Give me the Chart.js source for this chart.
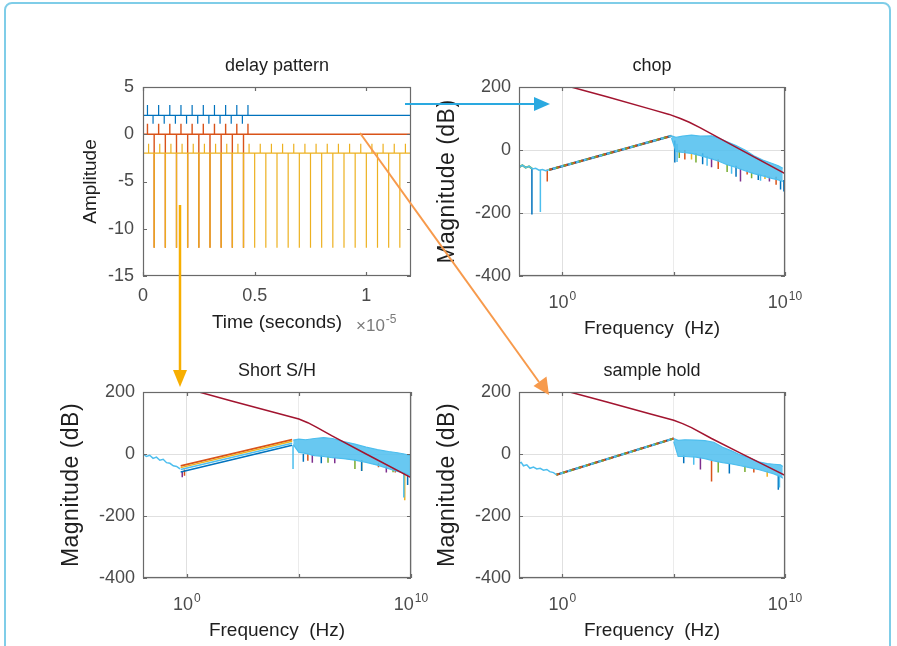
<!DOCTYPE html>
<html>
<head>
<meta charset="utf-8">
<script src="https://cdn.jsdelivr.net/npm/chart.js@4.4.1/dist/chart.umd.min.js"></script>
<style>
  html, body { margin: 0; padding: 0; background: #fff; }
  #page { position: relative; width: 897px; height: 646px; overflow: hidden; background: #fff; }
  #frame { position: absolute; left: 4px; top: 2px; width: 887px; height: 720px; border: 2px solid #7fcde8;
           border-radius: 8px; box-sizing: border-box; }
  canvas { position: absolute; }
  #arrows { position: absolute; left: 0; top: 0; }
</style>
</head>
<body>
<div id="page">
  <div id="frame"></div>
  <canvas id="delayChart"></canvas>
  <canvas id="chopChart"></canvas>
  <canvas id="shortChart"></canvas>
  <canvas id="holdChart"></canvas>
  <svg id="arrows" width="897" height="646" viewBox="0 0 897 646">
    <line x1="405" y1="104" x2="536" y2="104" stroke="#2aa9e0" stroke-width="2"/>
    <polygon points="550,104 534,97 534,111" fill="#2aa9e0"/>
    <line x1="180" y1="205" x2="180" y2="372" stroke="#f7ae00" stroke-width="2.5"/>
    <polygon points="180,387 173,370 187,370" fill="#f7ae00"/>
    <line x1="360" y1="133" x2="539" y2="382" stroke="#f79a4c" stroke-width="2"/>
    <polygon points="549,395 533.5,386 546.5,376.6" fill="#f79a4c"/>
  </svg>
</div>
<script>
// ---- delay pattern (time in units of 1e-5 s) ----
const timeEnd = 1.2;
const timeTicks = [0, 0.5, 1];
const ampTicks = [-15, -10, -5, 0, 5];
// levels: [baseline, up-spike peak, down-spike peak]
const blueLevels = [2, 3.1, 1.1];
const blueUpTimes = [0.02, 0.07, 0.12, 0.17, 0.22, 0.27, 0.32, 0.37, 0.42, 0.47];
const blueDownTimes = [0.045, 0.095, 0.145, 0.195, 0.245, 0.295, 0.345, 0.395, 0.445];
const redLevels = [0, 1.1, -12];
const redUpTimes = [0.02, 0.07, 0.12, 0.17, 0.22, 0.27, 0.32, 0.37, 0.42, 0.47];
const redDownTimes = [0, 0.05, 0.1, 0.15, 0.2, 0.25, 0.3, 0.35, 0.4, 0.45];
const yellowLevels = [-2, -1, -12];
const yellowUpTimes = [0.025, 0.075, 0.125, 0.175, 0.225, 0.275, 0.325, 0.375, 0.425, 0.475, 0.525, 0.575,
  0.625, 0.675, 0.725, 0.775, 0.825, 0.875, 0.925, 0.975, 1.025, 1.075, 1.125, 1.175];
const yellowDownTimes = [0, 0.05, 0.1, 0.15, 0.2, 0.25, 0.3, 0.35, 0.4, 0.45, 0.5, 0.55, 0.6,
  0.65, 0.7, 0.75, 0.8, 0.85, 0.9, 0.95, 1.0, 1.05, 1.1, 1.15, 1.2];

// ---- bode magnitude plots (frequency as log10 exponent, magnitude in dB) ----
const freqGrid = [1, 1e5, 1e10];
const freqLabelValues = [1, 1e10];
const freqLabelExps = ['0', '10'];
const dbTicks = [-400, -200, 0, 200];

// chop
const chopRedExp = [0.39, 2, 4, 4.8, 5.3, 5.7, 6.2, 8, 10];
const chopRedDb = [200, 169, 129, 113, 100, 88, 70, 1, -75];
const chopPreExp = [-1.95, -1.8, -1.65, -1.5, -1.35, -1.2, -1.05, -0.9, -0.75, -0.6];
const chopPreDb = [-55, -48, -56, -52, -60, -58, -64, -62, -66, -63];
const chopRampExp = [-0.6, 4.9];
const chopRampDb = [-63, 45];
const chopBandExp = [4.9, 5.1, 5.4, 5.8, 6.2, 6.7, 7.0, 7.4, 7.8, 8.2, 8.6, 9.0, 9.4, 9.7, 9.9];
const chopBandTop = [45, 40, 44, 47, 44, 45, 38, 26, 14, 0, -18, -32, -42, -50, -58];
const chopBandLow = [38, -5, -8, -11, -18, -28, -35, -47, -55, -66, -75, -82, -90, -95, -100];
// spikes: [exp, top dB, bottom dB]
const chopSpikesBlue = [[-1.37, -60, -205], [5.05, 30, -40], [6.3, -10, -45], [7.8, -50, -85], [8.8, -75, -95],
  [9.8, -95, -125], [9.95, -95, -132]];
const chopSpikesOrange = [[-0.68, -62, -100], [5.5, 0, -30], [7.0, -30, -60], [8.3, -65, -78], [9.6, -85, -110]];
const chopSpikesGreen = [[5.25, 0, -25], [6.0, -10, -40], [7.4, -45, -70], [8.5, -70, -90]];
const chopSpikesPurple = [[6.7, -25, -55], [8.0, -60, -100], [9.3, -85, -100]];
const chopSpikesYellow = [[5.8, -10, -30], [9.1, -80, -92]];
const chopSpikesLightBlue = [[-0.99, -63, -197], [5.15, 20, -38], [6.5, -20, -50], [7.6, -50, -75], [8.9, -78, -98]];

// Short S/H
const shortRedExp = [0.55, 2, 4, 5, 5.4, 5.8, 6.46, 8, 10];
const shortRedDb = [200, 171, 132, 113, 101, 86, 59, 0, -76];
const shortPreExp = [-1.94, -1.8, -1.65, -1.5, -1.35, -1.2, -1.05, -0.9, -0.75, -0.6, -0.45, -0.3];
const shortPreDb = [0, -8, -4, -14, -10, -20, -17, -28, -30, -38, -40, -48];
const shortRampExp = [-0.27, 4.7];
const shortRampOrange = [-38, 46];
const shortRampYellow = [-44, 41];
const shortRampLightBlue = [-50, 35];
const shortRampBlue = [-58, 28];
const shortBandExp = [4.75, 5.0, 5.3, 5.7, 6.1, 6.5, 7.0, 7.5, 8.0, 8.5, 9.0, 9.4, 9.7, 10];
const shortBandTop = [45, 48, 46, 50, 53, 50, 40, 32, 22, 14, 8, 4, 0, -5];
const shortBandLow = [30, 5, 2, -5, -8, -12, -15, -20, -27, -36, -47, -56, -62, -70];
const shortSpikesBlue = [[5.2, 0, -25], [6.0, -5, -30], [7.8, -20, -55], [9.85, -65, -100]];
const shortSpikesPurple = [[-0.2, -55, -75], [5.6, -3, -28], [6.6, -10, -30], [8.9, -40, -60]];
const shortSpikesOrange = [[-0.1, -50, -70], [5.4, 0, -22], [8.55, -30, -43], [9.3, -50, -60]];
const shortSpikesYellow = [[7.8, -20, -55], [9.72, -60, -149]];
const shortSpikesGreen = [[6.3, -8, -28], [7.5, -18, -48], [9.2, -50, -59]];
const shortSpikesLightBlue = [[4.74, 28, -48], [9.68, -60, -140]];

// sample hold
const holdRedExp = [0.33, 2, 4, 5, 5.4, 5.8, 6.7, 8, 10];
const holdRedDb = [200, 168, 128, 109, 98, 85, 50, 3, -69];
const holdPreExp = [-1.95, -1.85, -1.75, -1.6, -1.46, -1.3, -1.15, -1.0, -0.85, -0.7, -0.57, -0.4, -0.27];
const holdPreDb = [-30, -27, -38, -35, -46, -42, -48, -46, -52, -50, -57, -60, -67];
const holdRampExp = [-0.27, 5.0];
const holdRampDb = [-67, 50];
const holdBandExp = [5.0, 5.2, 5.5, 6.0, 6.4, 6.8, 7.2, 7.6, 8.0, 8.4, 8.8, 9.2, 9.5, 9.8, 9.9];
const holdBandTop = [50, 44, 46, 45, 43, 38, 22, 10, -3, -12, -25, -31, -33, -35, -40];
const holdBandLow = [40, -8, -8, -10, -15, -22, -28, -32, -38, -44, -50, -58, -64, -73, -78];
const holdSpikesBlue = [[5.45, -5, -30], [7.5, -30, -63], [9.7, -70, -115]];
const holdSpikesPurple = [[6.2, -10, -50]];
const holdSpikesOrange = [[6.7, -20, -89], [8.6, -45, -60]];
const holdSpikesGreen = [[7.0, -25, -60], [8.2, -38, -58]];
const holdSpikesYellow = [[9.2, -55, -73]];
const holdSpikesLightBlue = [[5.9, -8, -35], [9.75, -70, -108]];

// ---- styles ----
const C = {
  blue: '#0072BD', orange: '#D95319', yellow: '#EDB120', purple: '#7E2F8E',
  green: '#77AC30', lightBlue: '#4DBEEE', darkRed: '#A2142F'
};
const BAND_FILL = 'rgba(77, 190, 238, 0.85)';
const FONT = "'Liberation Sans', Arial, sans-serif";
const TICK_SIZE = 18;
const TICK_COLOR = '#4a4a4a';
const LABEL_COLOR = '#1e1e1e';
const GRID = '#e0e0e0';
const BOX = {
  delay: { left: 143, top: 87, right: 411, bottom: 276 },
  chop: { left: 519, top: 87, right: 785, bottom: 276 },
  short: { left: 143, top: 392, right: 411, bottom: 578 },
  hold: { left: 519, top: 392, right: 785, bottom: 578 }
};
const PAD = { left: 90, top: 50, right: 45, bottom: 70 };
const AXIS_W = 60, AXIS_H = 36;

Chart.defaults.animation = false;
Chart.defaults.events = [];
Chart.defaults.font.family = FONT;
Chart.defaults.plugins.legend.display = false;
Chart.defaults.plugins.tooltip.enabled = false;
Chart.defaults.elements.point.radius = 0;
Chart.defaults.elements.line.borderWidth = 1.2;
Chart.defaults.elements.line.tension = 0;

const toHz = e => Math.pow(10, e);

function curve(exps, dbs) {
  return exps.map((e, i) => ({ x: toHz(e), y: dbs[i] }));
}

function spikes(list) {
  const pts = [];
  list.forEach(([e, top, bottom]) => {
    pts.push({ x: toHz(e), y: top }, { x: toHz(e), y: bottom }, { x: toHz(e), y: null });
  });
  return pts;
}

function pulseTrain(levels, upTimes, downTimes, tEnd) {
  const [base, upPeak, downPeak] = levels;
  const events = upTimes.map(t => [t, upPeak]).concat(downTimes.map(t => [t, downPeak]))
    .sort((a, b) => a[0] - b[0]);
  const pts = [{ x: 0, y: base }];
  events.forEach(([t, peak]) => pts.push({ x: t, y: base }, { x: t, y: peak }, { x: t, y: base }));
  pts.push({ x: tEnd, y: base });
  return pts;
}

function placeCanvas(id, box) {
  const cv = document.getElementById(id);
  const w = box.right - box.left + PAD.left + PAD.right;
  const h = box.bottom - box.top + PAD.top + PAD.bottom;
  cv.width = w;
  cv.height = h;
  cv.style.left = (box.left - PAD.left) + 'px';
  cv.style.top = (box.top - PAD.top) + 'px';
  cv.style.width = w + 'px';
  cv.style.height = h + 'px';
  return cv;
}

// superscript label such as 10^10
function drawPower(ctx, x, y, base, exp, baseSize, expSize, align) {
  ctx.font = baseSize + 'px ' + FONT;
  const wb = ctx.measureText(base).width;
  ctx.font = expSize + 'px ' + FONT;
  const we = ctx.measureText(exp).width;
  const x0 = align === 'center' ? x - (wb + we + 1) / 2 : x;
  ctx.textAlign = 'left';
  ctx.textBaseline = 'alphabetic';
  ctx.font = baseSize + 'px ' + FONT;
  ctx.fillText(base, x0, y);
  ctx.font = expSize + 'px ' + FONT;
  ctx.fillText(exp, x0 + wb + 1, y - 8);
}

// MATLAB-like axes box, inward ticks, title and labels
const figurePlugin = {
  id: 'figure',
  afterDatasetsDraw(chart) {
    const { ctx, chartArea: a, scales } = chart;
    ctx.save();
    ctx.strokeStyle = '#6a6a6a';
    ctx.lineWidth = 1.2;
    ctx.strokeRect(a.left + 0.5, a.top + 0.5, a.width - 1, a.height - 1);
    ctx.beginPath();
    scales.y.ticks.forEach(t => {
      const py = Math.round(scales.y.getPixelForValue(t.value)) + 0.5;
      ctx.moveTo(a.left, py); ctx.lineTo(a.left + 4, py);
      ctx.moveTo(a.right, py); ctx.lineTo(a.right - 4, py);
    });
    scales.x.ticks.forEach(t => {
      const px = Math.round(scales.x.getPixelForValue(t.value)) + 0.5;
      ctx.moveTo(px, a.bottom); ctx.lineTo(px, a.bottom - 4);
      ctx.moveTo(px, a.top); ctx.lineTo(px, a.top + 4);
    });
    ctx.stroke();
    ctx.restore();
  },
  afterDraw(chart, args, o) {
    const { ctx, chartArea: a } = chart;
    const cx = (a.left + a.right) / 2;
    const cy = (a.top + a.bottom) / 2;
    ctx.save();
    ctx.fillStyle = LABEL_COLOR;
    ctx.textAlign = 'center';
    ctx.textBaseline = 'middle';
    ctx.font = '18px ' + FONT;
    ctx.fillText(o.title, cx, a.top - 21);
    ctx.font = '19px ' + FONT;
    ctx.fillText(o.xLabel, cx, a.bottom + o.xLabelGap);
    ctx.save();
    ctx.translate(a.left - o.yLabelGap, cy);
    ctx.rotate(-Math.PI / 2);
    ctx.font = o.yLabelSize + 'px ' + FONT;
    if ('letterSpacing' in ctx) ctx.letterSpacing = o.yLabelSpacing + 'px';
    ctx.fillText(o.yLabel, 0, 0);
    if ('letterSpacing' in ctx) ctx.letterSpacing = '0px';
    ctx.restore();
    if (o.powerTicks) {
      ctx.fillStyle = TICK_COLOR;
      freqLabelValues.forEach((v, i) => {
        drawPower(ctx, chart.scales.x.getPixelForValue(v), a.bottom + 32, '10', freqLabelExps[i], TICK_SIZE, 12, 'center');
      });
    }
    if (o.timeExponent) {
      ctx.fillStyle = '#7a7a7a';
      drawPower(ctx, a.right - 55, a.bottom + 55, '\u00d710', o.timeExponent, 17, 12, 'left');
    }
    ctx.restore();
  }
};

function layoutOptions() {
  return { padding: { left: PAD.left - AXIS_W, top: PAD.top, right: PAD.right, bottom: PAD.bottom - AXIS_H } };
}

function logX() {
  return {
    type: 'logarithmic',
    min: toHz(-1.95),
    max: toHz(10),
    afterBuildTicks: s => { s.ticks = freqGrid.map(v => ({ value: v })); },
    ticks: { display: false },
    grid: { color: ctx => (ctx.tick && ctx.tick.value === 1e5 ? '#ebebeb' : GRID), drawTicks: false },
    border: { display: false },
    afterFit: s => { s.height = AXIS_H; }
  };
}

function dbY() {
  return {
    type: 'linear',
    min: -400,
    max: 200,
    afterBuildTicks: s => { s.ticks = dbTicks.map(v => ({ value: v })); },
    ticks: { font: { size: TICK_SIZE }, color: TICK_COLOR, padding: 8 },
    grid: { color: GRID, drawTicks: false },
    border: { display: false },
    afterFit: s => { s.width = AXIS_W; }
  };
}

function line(data, color, order, extra) {
  return Object.assign({ data: data, borderColor: color, backgroundColor: color, order: order, fill: false }, extra || {});
}

function bodeLabels(title) {
  return {
    title: title, xLabel: 'Frequency  (Hz)', xLabelGap: 53,
    yLabel: 'Magnitude (dB)', yLabelGap: 71, yLabelSize: 23, yLabelSpacing: 0.5, powerTicks: true
  };
}

function bodeChart(id, box, datasets, title) {
  return new Chart(placeCanvas(id, box), {
    type: 'line',
    data: { datasets: datasets },
    options: {
      responsive: false,
      layout: layoutOptions(),
      scales: { x: logX(), y: dbY() },
      plugins: { figure: bodeLabels(title) }
    },
    plugins: [figurePlugin]
  });
}

// ---- delay pattern ----
new Chart(placeCanvas('delayChart', BOX.delay), {
  type: 'line',
  data: {
    datasets: [
      line(pulseTrain(yellowLevels, yellowUpTimes, yellowDownTimes, timeEnd), C.yellow, 0, { borderWidth: 1.2 }),
      line(pulseTrain(redLevels, redUpTimes, redDownTimes, timeEnd), C.orange, 1, { borderWidth: 1.4 }),
      line(pulseTrain(blueLevels, blueUpTimes, blueDownTimes, timeEnd), C.blue, 2)
    ]
  },
  options: {
    responsive: false,
    layout: layoutOptions(),
    scales: {
      x: {
        type: 'linear', min: 0, max: timeEnd,
        afterBuildTicks: s => { s.ticks = timeTicks.map(v => ({ value: v })); },
        ticks: { font: { size: TICK_SIZE }, color: TICK_COLOR, padding: 9, maxRotation: 0, callback: v => String(v) },
        grid: { display: false, drawTicks: false },
        border: { display: false },
        afterFit: s => { s.height = AXIS_H; }
      },
      y: {
        type: 'linear', min: -15, max: 5,
        afterBuildTicks: s => { s.ticks = ampTicks.map(v => ({ value: v })); },
        ticks: { font: { size: TICK_SIZE }, color: TICK_COLOR, padding: 9 },
        grid: { display: false, drawTicks: false },
        border: { display: false },
        afterFit: s => { s.width = AXIS_W; }
      }
    },
    plugins: {
      figure: {
        title: 'delay pattern', xLabel: 'Time (seconds)', xLabelGap: 47,
        yLabel: 'Amplitude', yLabelGap: 52, yLabelSize: 19, yLabelSpacing: 0, timeExponent: '-5'
      }
    }
  },
  plugins: [figurePlugin]
});

// ---- chop ----
bodeChart('chopChart', BOX.chop, [
  line(curve(chopRedExp, chopRedDb), C.darkRed, 0, { borderWidth: 1.5 }),
  line(curve(chopBandExp, chopBandTop), C.lightBlue, 1, { fill: '+1', backgroundColor: BAND_FILL }),
  line(curve(chopBandExp, chopBandLow), C.lightBlue, 1),
  line(spikes(chopSpikesLightBlue), C.lightBlue, 2, { borderWidth: 1.5 }),
  line(curve(chopRampExp, chopRampDb), C.lightBlue, 3, { borderWidth: 2, borderDash: [3, 5], borderDashOffset: 4 }),
  line(curve(chopRampExp, chopRampDb), C.green, 4, { borderWidth: 2, borderDash: [2, 6], borderDashOffset: 1 }),
  line(curve(chopRampExp, chopRampDb), C.orange, 5, { borderWidth: 2, borderDash: [3, 5] }),
  line(curve(chopRampExp, chopRampDb), '#33506b', 6, { borderWidth: 2.2 }),
  line(curve(chopPreExp, chopPreDb), C.lightBlue, 3, { borderWidth: 1.5 }),
  line(curve(chopPreExp.slice(0, 5), chopPreDb.slice(0, 5)), C.green, 4, { borderWidth: 2 }),
  line(spikes(chopSpikesBlue), C.blue, 7, { borderWidth: 1.5 }),
  line(spikes(chopSpikesOrange), C.orange, 7, { borderWidth: 1.5 }),
  line(spikes(chopSpikesGreen), C.green, 7, { borderWidth: 1.5 }),
  line(spikes(chopSpikesPurple), C.purple, 7, { borderWidth: 1.5 }),
  line(spikes(chopSpikesYellow), C.yellow, 7, { borderWidth: 1.5 })
], 'chop');

// ---- Short S/H ----
bodeChart('shortChart', BOX.short, [
  line(curve(shortRedExp, shortRedDb), C.darkRed, 0, { borderWidth: 1.5 }),
  line(curve(shortBandExp, shortBandTop), C.lightBlue, 1, { fill: '+1', backgroundColor: BAND_FILL }),
  line(curve(shortBandExp, shortBandLow), C.lightBlue, 1),
  line(spikes(shortSpikesLightBlue), C.lightBlue, 2, { borderWidth: 1.5 }),
  line(curve(shortPreExp, shortPreDb), C.lightBlue, 3, { borderWidth: 1.5 }),
  line(curve(shortRampExp, shortRampLightBlue), C.lightBlue, 3, { borderWidth: 1.5 }),
  line(curve(shortRampExp, shortRampYellow), C.yellow, 4, { borderWidth: 1.5 }),
  line(curve(shortRampExp, shortRampOrange), C.orange, 5, { borderWidth: 1.8 }),
  line(curve(shortRampExp, shortRampBlue), C.blue, 6, { borderWidth: 1.5 }),
  line(spikes(shortSpikesBlue), C.blue, 7, { borderWidth: 1.5 }),
  line(spikes(shortSpikesOrange), C.orange, 7, { borderWidth: 1.5 }),
  line(spikes(shortSpikesGreen), C.green, 7, { borderWidth: 1.5 }),
  line(spikes(shortSpikesPurple), C.purple, 7, { borderWidth: 1.5 }),
  line(spikes(shortSpikesYellow), C.yellow, 7, { borderWidth: 1.5 })
], 'Short S/H');

// ---- sample hold ----
bodeChart('holdChart', BOX.hold, [
  line(curve(holdRedExp, holdRedDb), C.darkRed, 0, { borderWidth: 1.5 }),
  line(curve(holdBandExp, holdBandTop), C.lightBlue, 1, { fill: '+1', backgroundColor: BAND_FILL }),
  line(curve(holdBandExp, holdBandLow), C.lightBlue, 1),
  line(spikes(holdSpikesLightBlue), C.lightBlue, 2, { borderWidth: 1.5 }),
  line(curve(holdPreExp, holdPreDb), C.lightBlue, 3, { borderWidth: 1.5 }),
  line(curve(holdRampExp, holdRampDb), C.lightBlue, 3, { borderWidth: 2, borderDash: [3, 5], borderDashOffset: 4 }),
  line(curve(holdRampExp, holdRampDb), C.green, 4, { borderWidth: 2, borderDash: [2, 6], borderDashOffset: 1 }),
  line(curve(holdRampExp, holdRampDb), C.orange, 5, { borderWidth: 2, borderDash: [3, 5] }),
  line(curve(holdRampExp, holdRampDb), '#33506b', 6, { borderWidth: 2.2 }),
  line(spikes(holdSpikesBlue), C.blue, 7, { borderWidth: 1.5 }),
  line(spikes(holdSpikesOrange), C.orange, 7, { borderWidth: 1.5 }),
  line(spikes(holdSpikesGreen), C.green, 7, { borderWidth: 1.5 }),
  line(spikes(holdSpikesPurple), C.purple, 7, { borderWidth: 1.5 }),
  line(spikes(holdSpikesYellow), C.yellow, 7, { borderWidth: 1.5 })
], 'sample hold');
</script>
</body>
</html>
